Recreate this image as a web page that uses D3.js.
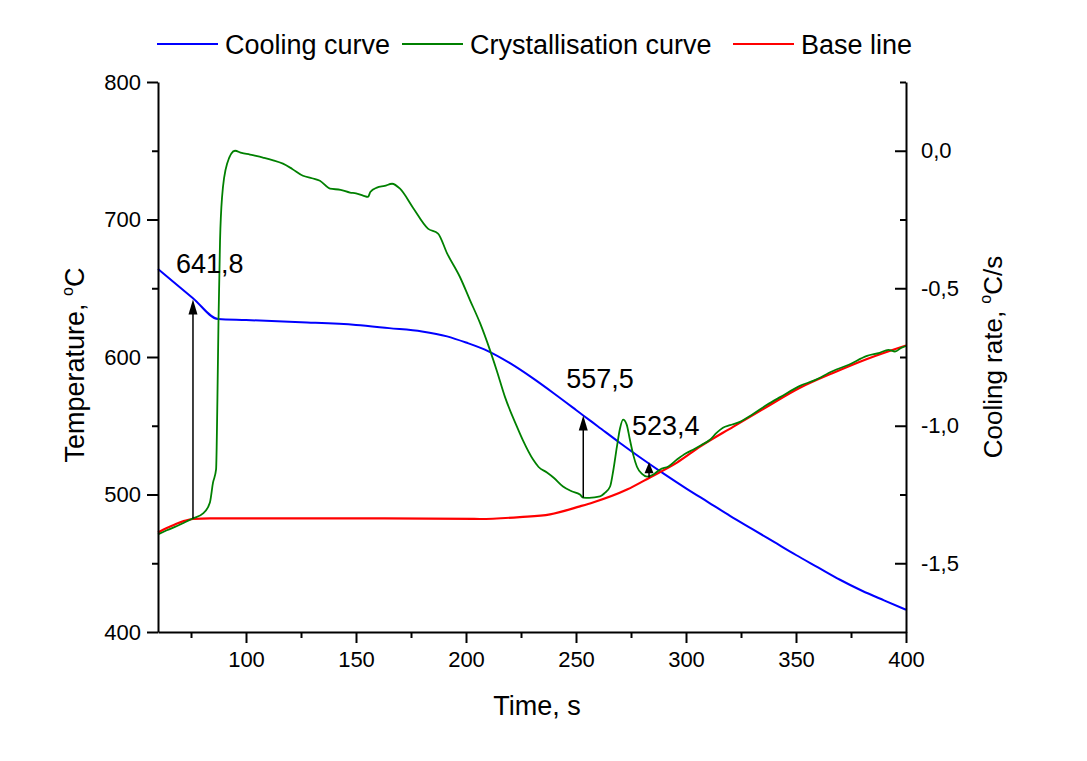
<!DOCTYPE html>
<html><head><meta charset="utf-8">
<script src="https://cdn.jsdelivr.net/npm/d3@7"></script>
<style>
body{margin:0;background:#fff;}
text{font-family:"Liberation Sans",Arial,sans-serif;fill:#000;}
</style></head>
<body><svg id="c" width="1087" height="761"></svg>
<script>
// ---- data ----
const coolingTime = [60,75.9,87.3,100,125,150,165,180,191.4,200,210,220,230,240,250,253.3,260,270,280,290,300,310,320,330,340,350,360,370,380,390,400];
const coolingTemp = [664.0,642.8,627.6,626.9,625.3,623.3,621.0,618.6,615.0,610.5,604.3,595.5,585.0,573.5,561.5,557.5,549.5,537.5,526.0,515.0,504.5,494.5,484.5,475.0,465.5,456.0,447.0,438.0,430.0,423.0,416.2];

const crystTime = [60,64,67.7,72,75.9,80.5,83.6,85,86.4,87.0,87.5,88.2,89.1,91.4,95,98,101.8,104,107.7,112,116.8,121,125.9,130,133.6,138.2,143,147.3,150,153.2,155.5,156.5,159.5,163,166.4,170,175.9,182.7,187.3,191.4,197.3,201.8,206.4,210.9,214,217.7,223.2,226,230.5,233,236.8,240,244.1,248,251.8,253.2,256,260.9,263,265.5,267,268.6,270,271.4,273,274.5,276,277.7,280,282.3,285,288.2,292,295.9,300,303.2,307,310.9,314,316.8,320,324.5,330,336.8,343,351.8,358,366.8,374,382.3,388,392,395,398,400];
const crystRate = [-1.395,-1.38,-1.368,-1.352,-1.337,-1.319,-1.279,-1.207,-1.159,-0.906,-0.616,-0.326,-0.170,-0.047,0.0,-0.008,-0.014,-0.018,-0.025,-0.034,-0.047,-0.066,-0.091,-0.100,-0.109,-0.138,-0.142,-0.152,-0.155,-0.163,-0.168,-0.150,-0.134,-0.128,-0.120,-0.138,-0.207,-0.283,-0.301,-0.373,-0.460,-0.543,-0.627,-0.725,-0.800,-0.895,-1.004,-1.055,-1.123,-1.150,-1.170,-1.190,-1.221,-1.238,-1.250,-1.261,-1.262,-1.257,-1.245,-1.221,-1.160,-1.076,-1.010,-0.978,-0.995,-1.051,-1.105,-1.149,-1.175,-1.185,-1.178,-1.159,-1.148,-1.123,-1.100,-1.087,-1.070,-1.051,-1.025,-1.007,-0.998,-0.986,-0.960,-0.924,-0.895,-0.855,-0.836,-0.801,-0.778,-0.746,-0.735,-0.724,-0.730,-0.716,-0.710];

const baseTime = [60,64,67.7,72,75.9,83.6,120,160,206.4,224.5,238.2,251.8,257.7,273.2,283.6,295.9,306.4,321.4,336.8,351.8,366.8,382.3,400];
const baseRate = [-1.388,-1.372,-1.359,-1.346,-1.339,-1.337,-1.337,-1.337,-1.339,-1.332,-1.322,-1.293,-1.279,-1.232,-1.188,-1.134,-1.076,-1.004,-0.931,-0.862,-0.808,-0.757,-0.708];

const xTicks = [100,150,200,250,300,350,400];
const xMinor = [75,125,175,225,275,325,375];
const yLeftTicks = [400,500,600,700,800];
const yLeftMinor = [450,550,650,750];
const yRightTicks = [0,-0.5,-1.0,-1.5];
const yRightMinor = [0.25,-0.25,-0.75,-1.25];

// annotations: time, temperature (tip on cooling curve), base rate (start on right axis), label
const annTime = [75.9,253.3,283.2];
const annTemp = [641.8,557.5,523.4];
const annBase = [-1.337,-1.261,-1.188];
const annLabel = ["641,8","557,5","523,4"];

const legendNames = ["Cooling curve","Crystallisation curve","Base line"];
const colors = ["#0000ff","#008000","#ff0000"];

// ---- chart ----
const svg = d3.select("#c");
const L=158,R=906,T=82,B=632;
const x = d3.scaleLinear().domain([60,400]).range([L,R]);
const yL = d3.scaleLinear().domain([400,800]).range([B,T]);
const yR = d3.scaleLinear().domain([-1.75,0.25]).range([B,T]);
const fmtC = d => d3.format(".1f")(d).replace(".",",").replace("−","-");

const line = (xs,ys,ysc)=> d3.line().curve(d3.curveMonotoneX).x((d,i)=>x(xs[i])).y((d,i)=>ysc(ys[i]))(xs);

// curves
svg.append("path").attr("d",line(coolingTime,coolingTemp,yL)).attr("fill","none").attr("stroke",colors[0]).attr("stroke-width",2);
svg.append("path").attr("d",line(baseTime,baseRate,yR)).attr("fill","none").attr("stroke",colors[2]).attr("stroke-width",2.2);
svg.append("path").attr("d",line(crystTime,crystRate,yR)).attr("fill","none").attr("stroke",colors[1]).attr("stroke-width",1.8);

// axes
function styleAxis(g,fs){
  g.select(".domain").attr("stroke","#000").attr("stroke-width",2);
  g.selectAll(".tick line").attr("stroke","#000").attr("stroke-width",2);
  g.selectAll("text").attr("font-size",fs).attr("font-family","Liberation Sans, Arial, sans-serif");
}
const gx = svg.append("g").attr("transform",`translate(0,${B})`)
  .call(d3.axisBottom(x).tickValues(xTicks).tickSize(11).tickPadding(8).tickSizeOuter(0));
styleAxis(gx,22);
svg.append("g").attr("transform",`translate(0,${B})`)
  .call(d3.axisBottom(x).tickValues(xMinor).tickSize(6).tickFormat("").tickSizeOuter(0))
  .call(g=>{g.select(".domain").remove();g.selectAll("line").attr("stroke","#000").attr("stroke-width",2);});

const gl = svg.append("g").attr("transform",`translate(${L},0)`)
  .call(d3.axisLeft(yL).tickValues(yLeftTicks).tickSize(11).tickPadding(6).tickSizeOuter(0));
styleAxis(gl,22);
svg.append("g").attr("transform",`translate(${L},0)`)
  .call(d3.axisLeft(yL).tickValues(yLeftMinor).tickSize(6).tickFormat("").tickSizeOuter(0))
  .call(g=>{g.select(".domain").remove();g.selectAll("line").attr("stroke","#000").attr("stroke-width",2);});

const gr = svg.append("g").attr("transform",`translate(${R},0)`)
  .call(d3.axisRight(yR).tickValues(yRightTicks).tickSize(11).tickPadding(4).tickSizeOuter(0).tickFormat(fmtC));
styleAxis(gr,22);
gr.selectAll(".tick line").attr("x2",-11);
gr.selectAll(".tick text").attr("x",15);
svg.append("g").attr("transform",`translate(${R},0)`)
  .call(d3.axisRight(yR).tickValues(yRightMinor).tickSize(6).tickFormat("").tickSizeOuter(0))
  .call(g=>{g.select(".domain").remove();g.selectAll("line").attr("stroke","#000").attr("stroke-width",2).attr("x2",-6);});

// axis titles
svg.append("text").attr("x",537).attr("y",715).attr("text-anchor","middle").attr("font-size",27).text("Time, s");
const tl = svg.append("text").attr("transform",`translate(84,${(T+B)/2+8}) rotate(-90)`).attr("text-anchor","middle").attr("font-size",27);
tl.append("tspan").text("Temperature, ");
tl.append("tspan").attr("font-size",16).attr("dy",-11).text("o");
tl.append("tspan").attr("dy",11).text("C");
const tr = svg.append("text").attr("transform",`translate(1002,${(T+B)/2}) rotate(-90)`).attr("text-anchor","middle").attr("font-size",26);
tr.append("tspan").text("Cooling rate, ");
tr.append("tspan").attr("font-size",16).attr("dy",-11).text("o");
tr.append("tspan").attr("dy",11).text("C/s");

// arrows
annTime.forEach((t,i)=>{
  svg.append("line").attr("x1",x(t)).attr("x2",x(t)).attr("y1",yR(annBase[i])).attr("y2",yL(annTemp[i])+4)
    .attr("stroke","#000").attr("stroke-width",1.5);
  svg.append("path").attr("d",`M${x(t)},${yL(annTemp[i])} l-4.5,${i==2?11:15} l9,0 Z`).attr("fill","#000");
  svg.append("text").attr("x",x(t)-17).attr("y",yL(annTemp[i])-27).attr("font-size",27).text(annLabel[i]);
});

// legend
const legX = [157,402,733];
legendNames.forEach((n,i)=>{
  svg.append("line").attr("x1",legX[i]).attr("x2",legX[i]+61).attr("y1",44).attr("y2",44).attr("stroke",colors[i]).attr("stroke-width",2);
  svg.append("text").attr("x",legX[i]+68).attr("y",54).attr("font-size",27).text(n);
});
</script></body></html>
